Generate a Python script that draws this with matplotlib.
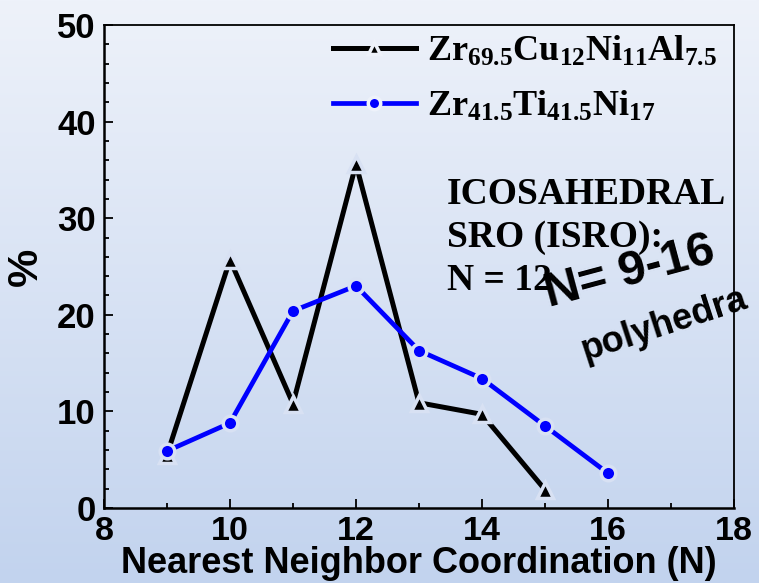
import numpy as np
import matplotlib
matplotlib.use("Agg")
import matplotlib.pyplot as plt
from matplotlib.lines import Line2D
from matplotlib.colors import LinearSegmentedColormap
from matplotlib.ticker import MultipleLocator

# Coordination-number distributions (%)
coord_a = [9, 10, 11, 12, 13, 14, 15]
pct_a = [5.5, 25.7, 10.8, 35.6, 10.9, 9.7, 1.9]
coord_b = [9, 10, 11, 12, 13, 14, 15, 16]
pct_b = [5.9, 8.8, 20.4, 23.0, 16.3, 13.4, 8.5, 3.6]

label_a = r"$\mathrm{Zr_{69.5}Cu_{12}Ni_{11}Al_{7.5}}$"
label_b = r"$\mathrm{Zr_{41.5}Ti_{41.5}Ni_{17}}$"

plt.rcParams["mathtext.fontset"] = "custom"
plt.rcParams["mathtext.rm"] = "Liberation Serif:bold"
plt.rcParams["mathtext.bf"] = "Liberation Serif:bold"
plt.rcParams["mathtext.it"] = "Liberation Serif:bold"
plt.rcParams["font.family"] = "Liberation Sans"
plt.rcParams["font.weight"] = "bold"

top_col = "#eef2fa"
bot_col = "#c2d3ee"
gap_col = "#d8e1f3"

fig = plt.figure(figsize=(7.59, 5.83), dpi=100)

# soft vertical gradient behind everything
bg = fig.add_axes([0, 0, 1, 1], zorder=-10)
cmap = LinearSegmentedColormap.from_list("bg", [bot_col, top_col])
bg.imshow(np.linspace(0, 1, 256).reshape(-1, 1), aspect="auto", cmap=cmap,
          origin="lower", extent=[0, 1, 0, 1])
bg.axis("off")

ax = fig.add_axes([0.137, 0.1286, 0.830, 0.8285])
ax.set_facecolor("none")

ax.plot(coord_a, pct_a, color="black", lw=3.6, marker="^", ms=12,
        mfc="black", mec=gap_col, mew=2.5, zorder=3)
ax.plot(coord_b, pct_b, color="#0000ff", lw=3.4, marker="o", ms=10.5,
        mfc="#0000ff", mec=gap_col, mew=2.5, zorder=3)

ax.set_xlim(8, 18)
ax.set_ylim(0, 50)
ax.xaxis.set_major_locator(MultipleLocator(2))
ax.xaxis.set_minor_locator(MultipleLocator(1))
ax.yaxis.set_major_locator(MultipleLocator(10))
ax.yaxis.set_minor_locator(MultipleLocator(2))
ax.tick_params(which="both", direction="in", width=1.3, top=False, right=False,
               labelsize=25)
ax.tick_params(axis="x", pad=6, labelsize=24.5)
ax.tick_params(axis="y", pad=6)
ax.tick_params(which="major", length=6.5)
ax.tick_params(which="minor", length=3.5)
for lbl in ax.get_xticklabels() + ax.get_yticklabels():
    lbl.set_fontweight("bold")
for side in ["left", "bottom"]:
    ax.spines[side].set_linewidth(1.8)
for side in ["top", "right"]:
    ax.spines[side].set_linewidth(1.3)

ax.set_xlabel("Nearest Neighbor Coordination (N)", fontsize=26,
              fontweight="bold", labelpad=-1)
ax.set_ylabel("%", fontsize=31, fontweight="bold", labelpad=8)

# legend proxies with smaller markers
h_a = Line2D([], [], color="black", lw=3.6, marker="^", ms=9,
             mfc="black", mec=top_col, mew=2.5)
h_b = Line2D([], [], color="#0000ff", lw=3.4, marker="o", ms=9,
             mfc="#0000ff", mec=top_col, mew=2.5)
ax.legend([h_a, h_b], [label_a, label_b], loc="upper left",
          bbox_to_anchor=(0.34, 1.012), frameon=False, fontsize=26,
          handlelength=2.3, handletextpad=0.3, labelspacing=0.55,
          borderaxespad=0.0)

ax.text(13.44, 34.3, "ICOSAHEDRAL\nSRO (ISRO):\nN = 12", fontsize=27,
        family="Liberation Serif", fontweight="bold", va="top", ha="left",
        linespacing=1.3, zorder=4)
ax.text(16.35, 24.4, "N= 9-16", fontsize=35, fontweight="bold",
        rotation=15, rotation_mode="anchor", ha="center", va="center", zorder=5)
ax.text(16.9, 19.0, "polyhedra", fontsize=26, fontweight="bold",
        rotation=18, rotation_mode="anchor", ha="center", va="center", zorder=5)

fig.savefig("out.png", dpi=100)
